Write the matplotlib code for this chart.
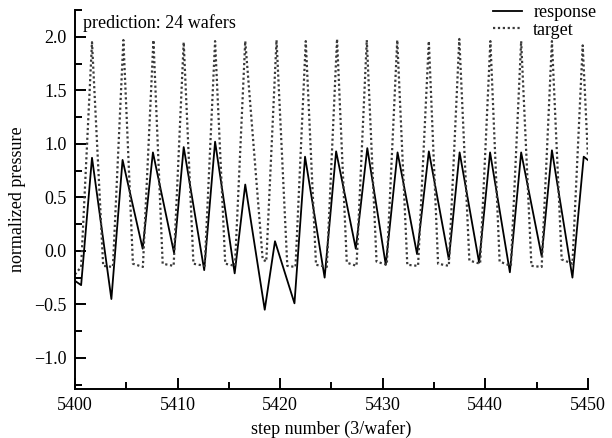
import matplotlib
matplotlib.use("Agg")
import matplotlib.pyplot as plt
from matplotlib.ticker import MultipleLocator, FuncFormatter

plt.rcParams["font.family"] = ["Liberation Serif", "DejaVu Serif"]

# target pressure profile (vertices of the piecewise-linear trace)
target_steps = [5400.0, 5400.6, 5401.66, 5402.75, 5403.7, 5404.72, 5405.65, 5406.62,
                5407.65, 5408.55, 5409.62, 5410.6, 5411.55, 5412.65, 5413.66, 5414.65,
                5415.6, 5416.6, 5418.3, 5418.65, 5419.65, 5420.7, 5421.5, 5422.5,
                5423.5, 5424.55, 5425.55, 5426.5, 5427.45, 5428.45, 5429.4, 5430.4,
                5431.42, 5432.4, 5433.45, 5434.5, 5435.4, 5436.45, 5437.47, 5438.45,
                5439.5, 5440.5, 5441.4, 5442.5, 5443.5, 5444.5, 5445.5, 5446.5,
                5447.45, 5448.5, 5449.5, 5450.0]
target_values = [-0.22, -0.15, 1.95, -0.14, -0.15, 1.97, -0.12, -0.15,
                 1.97, -0.12, -0.14, 1.95, -0.12, -0.14, 1.96, -0.12,
                 -0.14, 1.96, -0.08, -0.10, 1.97, -0.14, -0.15, 1.96,
                 -0.13, -0.15, 1.98, -0.11, -0.14, 1.97, -0.10, -0.13,
                 1.97, -0.13, -0.14, 1.96, -0.12, -0.14, 1.98, -0.09,
                 -0.12, 1.96, -0.10, -0.14, 1.96, -0.14, -0.15, 1.96,
                 -0.08, -0.12, 1.92, 0.90]

# predicted response of the model
response_steps = [5400.0, 5400.6, 5401.66, 5403.55, 5404.64, 5406.6, 5407.6, 5409.66,
                  5410.6, 5412.6, 5413.66, 5415.57, 5416.6, 5418.5, 5419.5, 5421.4,
                  5422.43, 5424.34, 5425.46, 5427.38, 5428.5, 5430.3, 5431.45, 5433.35,
                  5434.5, 5436.45, 5437.5, 5439.4, 5440.47, 5442.4, 5443.5, 5445.5,
                  5446.5, 5448.5, 5449.6, 5450.0]
response_values = [-0.28, -0.32, 0.87, -0.45, 0.85, 0.02, 0.92, -0.02,
                   0.97, -0.18, 1.02, -0.21, 0.62, -0.55, 0.09, -0.49,
                   0.88, -0.25, 0.93, 0.02, 0.96, -0.13, 0.92, -0.03,
                   0.93, -0.08, 0.92, -0.11, 0.92, -0.20, 0.92, -0.05,
                   0.94, -0.25, 0.88, 0.85]

fig = plt.figure(figsize=(6.12, 4.38), dpi=100)
ax = fig.add_axes([0.1225, 0.112, 0.838, 0.865])

ax.plot(response_steps, response_values, color="black", lw=1.3, label="response")
ax.plot(target_steps, target_values, color="#3a3a3a", lw=1.6,
        linestyle=(0, (1.0, 1.2)), label="target")

ax.set_xlim(5400, 5450)
ax.set_ylim(-1.29, 2.25)
ax.xaxis.set_major_locator(MultipleLocator(10))
ax.xaxis.set_minor_locator(MultipleLocator(5))
ax.yaxis.set_major_locator(MultipleLocator(0.5))
ax.yaxis.set_minor_locator(MultipleLocator(0.25))
ax.yaxis.set_major_formatter(
    FuncFormatter(lambda v, _: f"{v:.1f}".replace("-", "\u2212")))

for side in ("top", "right"):
    ax.spines[side].set_visible(False)
for side in ("left", "bottom"):
    ax.spines[side].set_linewidth(1.4)

ax.tick_params(which="both", direction="in", width=1.4, labelsize=13,
               top=False, right=False)
ax.tick_params(which="major", length=8, pad=6)
ax.tick_params(which="minor", length=5)

ax.set_xlabel("step number (3/wafer)", fontsize=13, labelpad=4)
ax.set_ylabel("normalized pressure", fontsize=13, labelpad=6)

ax.text(0.015, 0.99, "prediction: 24 wafers", transform=ax.transAxes,
        ha="left", va="top", fontsize=13)

fig.legend(loc="upper right", bbox_to_anchor=(0.995, 1.02), frameon=False,
           fontsize=13, handlelength=1.6, handletextpad=0.6, labelspacing=0.05,
           borderpad=0.2)

fig.savefig("out.png", dpi=100)
